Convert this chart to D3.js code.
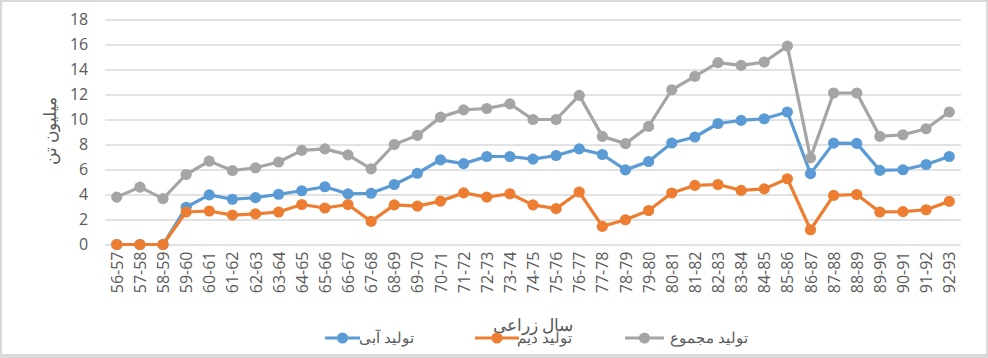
<!DOCTYPE html>
<html><head><meta charset="utf-8">
<script src="https://cdn.jsdelivr.net/npm/d3@7"></script>
<style>
html,body{margin:0;padding:0;background:#fff;}
svg{display:block;}
text{font-family:"Open Sans","Noto Sans",sans-serif;fill:#595959;}
</style></head>
<body>
<svg id="c" width="988" height="358"></svg>
<script>
const categories = ["56-57","57-58","58-59","59-60","60-61","61-62","62-63","63-64","64-65","65-66","66-67","67-68","68-69","69-70","70-71","71-72","72-73","73-74","74-75","75-76","76-77","77-78","78-79","79-80","80-81","81-82","82-83","83-84","84-85","85-86","86-87","87-88","88-89","89-90","90-91","91-92","92-93"];
const irrigated = [0,0,0,2.98,3.97,3.62,3.75,4.02,4.3,4.62,4.05,4.1,4.8,5.7,6.77,6.47,7.04,7.04,6.83,7.12,7.65,7.2,5.97,6.64,8.12,8.6,9.68,9.93,10.06,10.6,5.67,8.11,8.09,5.93,5.98,6.4,7.04];
const rainfed = [0,0,0,2.6,2.68,2.35,2.45,2.6,3.2,2.92,3.2,1.85,3.17,3.07,3.47,4.13,3.79,4.06,3.17,2.87,4.2,1.45,1.98,2.72,4.12,4.73,4.8,4.33,4.45,5.26,1.18,3.93,4.0,2.6,2.63,2.78,3.45];
const total = [3.79,4.59,3.67,5.6,6.67,5.92,6.14,6.6,7.53,7.65,7.17,6.05,8.0,8.73,10.19,10.77,10.88,11.25,10.0,10.0,11.93,8.65,8.07,9.45,12.38,13.45,14.55,14.33,14.6,15.87,6.93,12.12,12.12,8.65,8.78,9.26,10.6];
const yTicks = [0,2,4,6,8,10,12,14,16,18];
const seriesNames = ["تولید آبی","تولید دیم","تولید مجموع"];
const seriesColors = ["#5b9bd5","#ed7d31","#a5a5a5"];
const yTitle = "میلیون تن";
const xTitle = "سال زراعی";

const svg = d3.select("#c");
svg.append("rect").attr("width",988).attr("height",358).attr("fill","#d9d9d9");
svg.append("rect").attr("x",2).attr("y",2).attr("width",984).attr("height",352).attr("fill","#fff");

const pL = 105.2, pR = 960.8, pT = 19.5, pB = 244.5;
const x = d3.scalePoint().domain(categories).range([pL, pR]).padding(0.5);
const y = d3.scaleLinear().domain([0,18]).range([pB, pT]);

// gridlines
const yAxis = d3.axisLeft(y).tickValues(yTicks).tickSize(-(pR-pL)).tickPadding(17).tickFormat(d3.format("d"));
const gy = svg.append("g").attr("transform",`translate(${pL},0)`).call(yAxis);
gy.select(".domain").remove();
gy.selectAll(".tick line").attr("stroke","#d9d9d9").attr("stroke-width",1.3);
gy.selectAll(".tick text").attr("font-size",16).style("fill","#595959");

// x axis labels
const xAxis = d3.axisBottom(x).tickSize(0).tickPadding(0);
const gx = svg.append("g").attr("transform",`translate(0,${pB})`).call(xAxis);
gx.select(".domain").remove();
gx.selectAll(".tick text")
  .attr("font-size",16)
  .attr("transform","rotate(-90)")
  .attr("x",-7).attr("y",0).attr("dy","0.35em")
  .attr("text-anchor","end").style("fill","#595959");

// series
const data = [irrigated, rainfed, total];
const line = d3.line().x((d,i)=>x(categories[i])).y(d=>y(d));
data.forEach((vals,k)=>{
  const g = svg.append("g");
  g.append("path").datum(vals).attr("d",line).attr("fill","none")
    .attr("stroke",seriesColors[k]).attr("stroke-width",3.2).attr("stroke-linejoin","round").attr("stroke-linecap","round");
  g.selectAll("circle").data(vals).join("circle")
    .attr("cx",(d,i)=>x(categories[i])).attr("cy",d=>y(d)).attr("r",5.6)
    .attr("fill",seriesColors[k]);
});

// axis titles
svg.append("text").attr("transform","translate(50,131) rotate(-90)")
  .attr("text-anchor","middle").attr("dy","0.35em").attr("font-size",17).text(yTitle);
svg.append("text").attr("x",533).attr("y",325).attr("dy","0.35em")
  .attr("text-anchor","middle").attr("font-size",17).text(xTitle);

// legend
const legendItems = [
  {lx0:325, lx1:360, text:"تولید آبی", tEnd:414},
  {lx0:475, lx1:519, text:"تولید دیم", tEnd:572},
  {lx0:625, lx1:664, text:"تولید مجموع", tEnd:748}
];
const ly = 338;
legendItems.forEach((it,k)=>{
  const g = svg.append("g");
  g.append("line").attr("x1",it.lx0).attr("x2",it.lx1).attr("y1",ly).attr("y2",ly)
    .attr("stroke",seriesColors[k]).attr("stroke-width",3.2);
  g.append("circle").attr("cx",(it.lx0+it.lx1)/2).attr("cy",ly).attr("r",5.6).attr("fill",seriesColors[k]);
  g.append("text").attr("x",it.tEnd).attr("y",ly).attr("dy","0.35em").attr("text-anchor","end")
    .attr("font-size",15).text(seriesNames[k]);
});
</script>
</body></html>
